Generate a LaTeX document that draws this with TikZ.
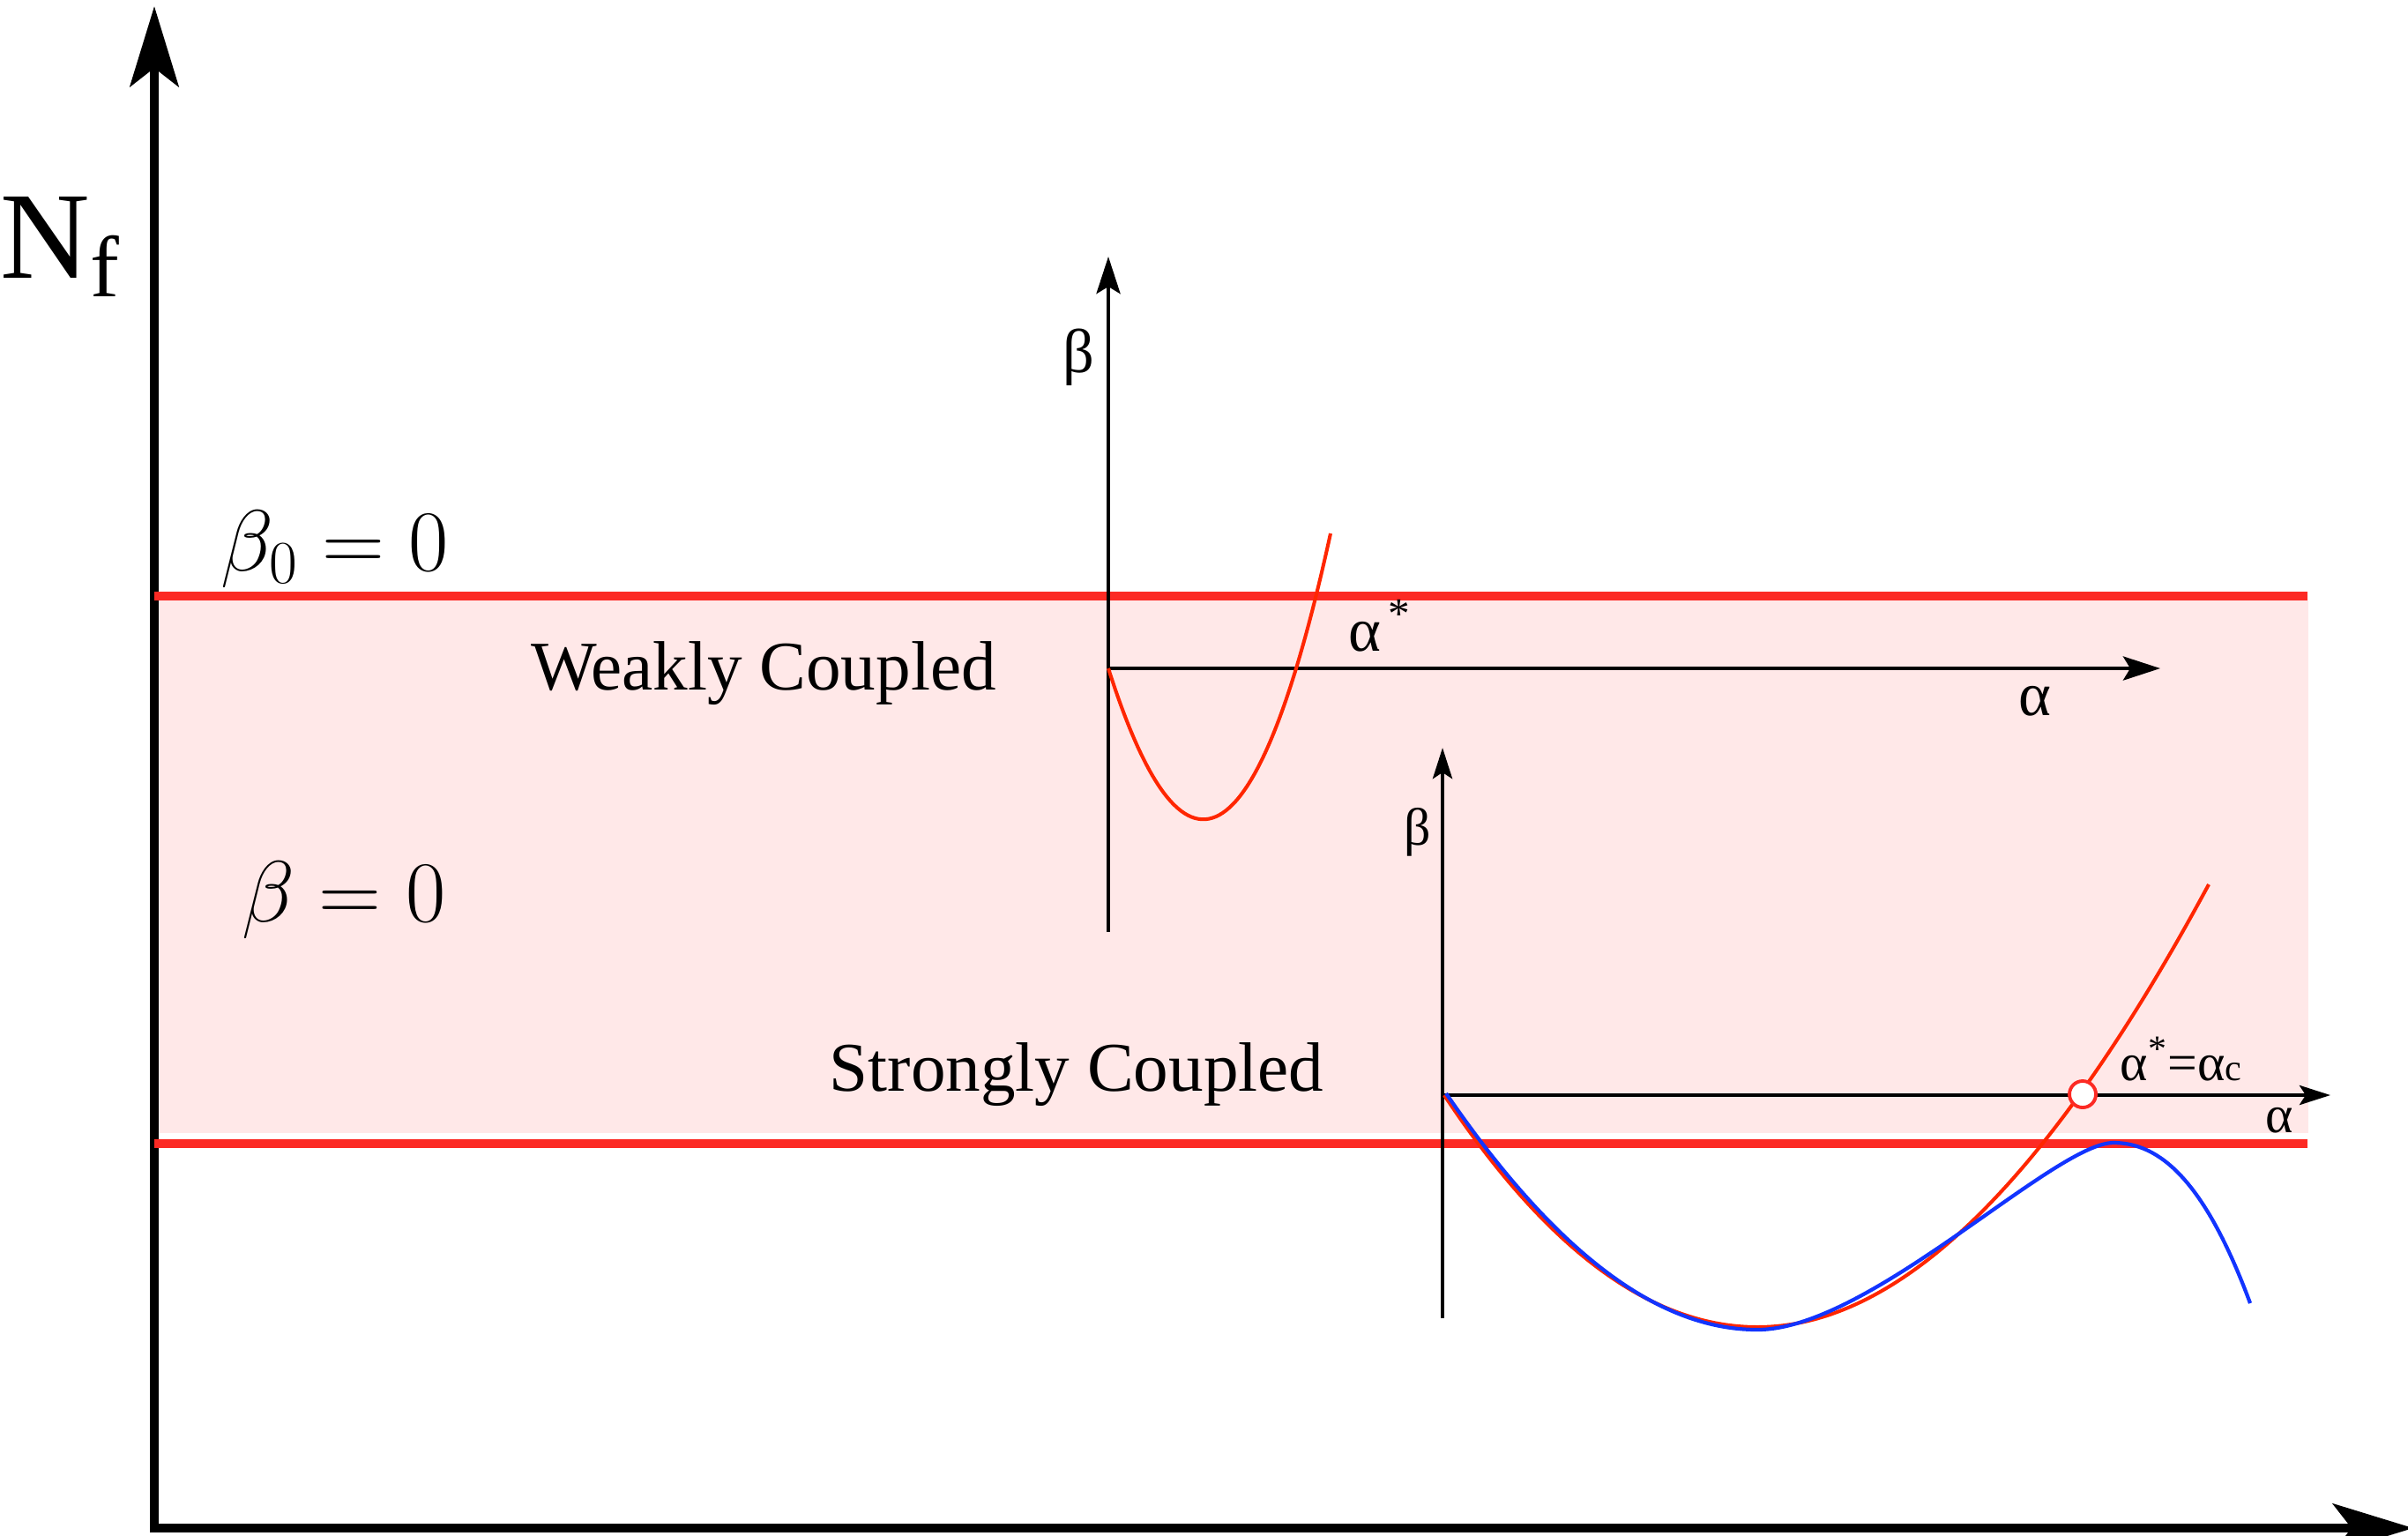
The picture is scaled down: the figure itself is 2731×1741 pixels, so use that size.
\RequirePackage{fix-cm}
\documentclass[tikz,border=0pt]{standalone}
\usepackage[no-math]{fontspec}
\setmainfont{Liberation Serif}
\usetikzlibrary{arrows.meta}
\definecolor{bandred}{RGB}{252,42,36}
\definecolor{bandfill}{RGB}{255,232,232}
\definecolor{curvered}{RGB}{255,38,0}
\definecolor{curveblue}{RGB}{18,52,255}
\tikzstyle{mainaxis} = [line width=3.1pt, {Stealth[length=0.91cm, width=0.55cm, inset=0.21cm]}-{Stealth[length=0.91cm, width=0.55cm, inset=0.21cm]}]
\tikzstyle{bandline} = [line width=2.8pt, draw=bandred]
\tikzstyle{weakaxis} = [line width=1.3pt, -{Stealth[length=0.42cm, width=0.27cm, inset=0.08cm]}]
\tikzstyle{strongaxis} = [line width=1.3pt, -{Stealth[length=0.35cm, width=0.22cm, inset=0.07cm]}]
\tikzstyle{betacurve} = [line width=1.15pt, draw=curvered]
\tikzstyle{approxcurve} = [line width=1.2pt, draw=curveblue]
\tikzstyle{regime} = [inner sep=0pt, font=\fontsize{22.5}{27}\selectfont]
\tikzstyle{mathlbl} = [inner sep=0pt, font=\fontsize{28}{34}\selectfont]
\tikzstyle{greek} = [inner sep=0pt, font=\fontsize{20}{24}\selectfont]
\tikzstyle{greeksmall} = [inner sep=0pt, font=\fontsize{17}{20}\selectfont]

\begin{document}
\begin{tikzpicture}[x=0.01cm, y=-0.01cm]
    \useasboundingbox (0,0) rectangle (2731,1741);

    \coordinate (O) at (175,1733);
    \coordinate (Ny) at (175,7);
    \coordinate (Nx) at (2737,1733);
    \coordinate (b0l) at (175,676);
    \coordinate (b0r) at (2617,676);
    \coordinate (b1l) at (175,1297);
    \coordinate (b1r) at (2617,1297);

    \fill[bandfill] (177,681) rectangle (2618,1285);
    \draw[mainaxis] (Ny) -- (O) -- (Nx);
    \draw[bandline] (b0l) -- (b0r);
    \draw[bandline] (b1l) -- (b1r);

    \coordinate (wO) at (1257,758);
    \coordinate (wtop) at (1257,291);
    \coordinate (wbot) at (1257,1057);
    \coordinate (wx) at (2450,758);
    \draw[weakaxis] (wbot) -- (wtop);
    \draw[weakaxis] (wO) -- (wx);
    \draw[betacurve] (1257,758) .. controls (1341,1022) and (1425,988) .. (1509,605);

    \coordinate (sO) at (1636,1242);
    \coordinate (stop) at (1636,848);
    \coordinate (sbot) at (1636,1495);
    \coordinate (sx) at (2643,1242);
    \draw[strongaxis] (sbot) -- (stop);
    \draw[strongaxis] (sO) -- (sx);
    \draw[betacurve] (1638,1242) .. controls (1756,1420) and (1875,1505) .. (1993,1505)
        .. controls (2164,1505) and (2334,1320) .. (2505,1003);
    \draw[approxcurve] (1640,1240) .. controls (1758,1412) and (1875,1508) .. (1993,1508)
        .. controls (2120,1508) and (2330,1296) .. (2397,1296)
        .. controls (2449,1296) and (2500,1338) .. (2552,1478);
    \node (fp) [circle, draw=bandred, fill=white, line width=1.1pt, minimum size=0.3cm, inner sep=0pt] at (2362,1241) {};

    \node (Nf) [anchor=base west, inner sep=0pt, font=\fontsize{40}{48}\selectfont] at (0,315) {N\textsubscript{f}};
    \node (b0) [mathlbl, anchor=base west] at (250,647) {$\beta_0 = 0$};
    \node (b1) [mathlbl, anchor=base west] at (274,1045) {$\beta = 0$};
    \node (weak) [regime, anchor=base] at (866,782) {Weakly Coupled};
    \node (strong) [regime, anchor=base] at (1221,1237) {Strongly Coupled};
    \node (wbeta) [greek] at (1223,405) {β};
    \node (walpha) [greek] at (2308,795) {α};
    \node (wstar) [greek, anchor=base west] at (1529,738) {α\textsuperscript{\,*}};
    \node (sbeta) [greeksmall] at (1608,944) {β};
    \node (salpha) [greeksmall] at (2585,1271) {α};
    \node (sstar) [greeksmall, anchor=base west] at (2404,1225) {α\textsuperscript{*}=α{\fontsize{12}{14}\selectfont c}};
\end{tikzpicture}
\end{document}
